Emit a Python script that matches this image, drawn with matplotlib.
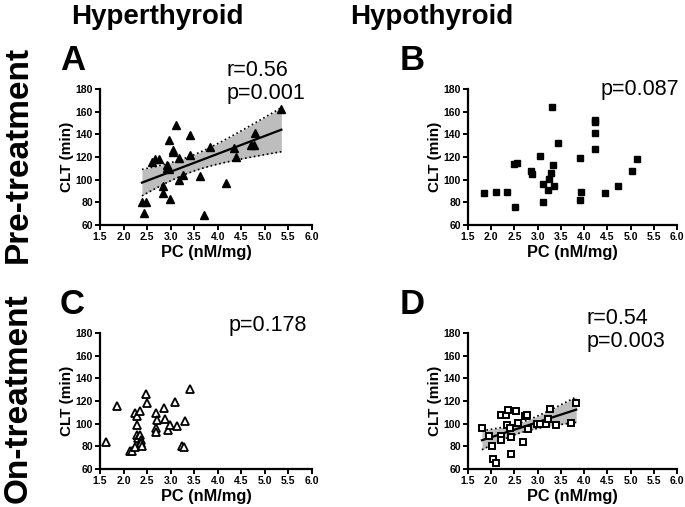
import numpy as np
import matplotlib
matplotlib.use("Agg")
import matplotlib.pyplot as plt

plt.rcParams['font.family'] = ['Liberation Sans', 'DejaVu Sans']

# Panel A: Hyperthyroid, pre-treatment
a_x = [2.39, 2.48, 2.44, 2.61, 2.67, 2.75, 2.83, 2.83, 2.92, 2.93, 2.97, 2.99, 2.97, 3.04, 3.05,
       3.11, 3.17, 3.18, 3.27, 3.41, 3.41, 3.63, 3.71, 3.84, 4.17, 4.34, 4.38, 4.70, 4.76, 4.79, 5.35]
a_y = [80, 80, 71, 116, 118, 118, 94, 88, 113, 110, 109, 83, 135, 126, 124,
       148, 119, 100, 104, 139, 122, 103, 69, 129, 97, 128, 120, 131, 131, 141, 162]
# Panel B: Hypothyroid, pre-treatment
b_x = [1.85, 2.10, 2.34, 2.51, 2.49, 2.56, 2.85, 2.87, 3.04, 3.11, 3.11, 3.22, 3.24, 3.29, 3.33,
       3.31, 3.36, 3.43, 3.92, 3.91, 3.94, 4.23, 4.24, 4.24, 4.24, 4.44, 4.74, 5.04, 5.13]
b_y = [88, 89, 89, 76, 114, 115, 108, 105, 121, 96, 80, 91, 101, 106, 113,
       164, 94, 132, 119, 82, 89, 153, 151, 141, 127, 88, 94, 108, 118]
# Panel C: Hyperthyroid, on-treatment
c_x = [1.63, 1.86, 2.13, 2.17, 2.25, 2.28, 2.28, 2.25, 2.28, 2.34, 2.31, 2.34, 2.36, 2.37, 2.40,
       2.48, 2.50, 2.69, 2.68, 2.69, 2.70, 2.86, 2.89, 2.94, 2.98, 3.10, 3.14, 3.23, 3.28, 3.30, 3.41]
c_y = [84, 116, 76, 76, 79, 90, 99, 109, 107, 111, 87, 90, 86, 83, 80,
       126, 118, 109, 96, 93, 103, 114, 104, 94, 99, 119, 98, 80, 79, 102, 131]
# Panel D: Hypothyroid, on-treatment
d_x = [1.80, 1.96, 2.01, 2.03, 2.10, 2.22, 2.22, 2.22, 2.32, 2.37, 2.34, 2.41, 2.43, 2.43, 2.53,
       2.58, 2.69, 2.73, 2.78, 2.80, 2.98, 3.04, 3.17, 3.22, 3.27, 3.39, 3.72, 3.83]
d_y = [96, 89, 80, 69, 65, 108, 89, 86, 108, 112, 99, 96, 88, 73, 111,
       101, 84, 107, 108, 95, 100, 100, 100, 104, 113, 99, 101, 118]

x_ticks = [1.5, 2.0, 2.5, 3.0, 3.5, 4.0, 4.5, 5.0, 5.5, 6.0]
y_ticks = [60, 80, 100, 120, 140, 160, 180]

W, H = 685, 507
fig = plt.figure(figsize=(W / 100, H / 100), dpi=100)


def add_ax(left, top, right, bottom):
    return fig.add_axes([left / W, 1 - bottom / H, (right - left) / W, (bottom - top) / H])


def style(ax):
    ax.set_xlim(1.5, 6.0)
    ax.set_ylim(60, 180)
    ax.set_xticks(x_ticks)
    ax.set_xticklabels([f"{t:.1f}" for t in x_ticks])
    ax.set_yticks(y_ticks)
    for s in ['top', 'right']:
        ax.spines[s].set_visible(False)
    for s in ['left', 'bottom']:
        ax.spines[s].set_linewidth(1.6)
    ax.tick_params(direction='out', length=3.5, width=1.4, pad=1.5, labelsize=7.5)
    for lab in ax.get_xticklabels() + ax.get_yticklabels():
        lab.set_fontweight('bold')
    ax.set_xlabel('PC (nM/mg)', fontsize=11.8, fontweight='bold', labelpad=2)
    ax.set_ylabel('CLT (min)', fontsize=11, fontweight='bold', labelpad=1)
    ax.patch.set_alpha(0)


def regress(ax, x, y):
    x = np.asarray(x, float)
    y = np.asarray(y, float)
    n = len(x)
    b, a = np.polyfit(x, y, 1)
    xs = np.linspace(x.min(), x.max(), 100)
    yhat = a + b * xs
    resid = y - (a + b * x)
    s = np.sqrt(np.sum(resid ** 2) / (n - 2))
    se = s * np.sqrt(1 / n + (xs - x.mean()) ** 2 / np.sum((x - x.mean()) ** 2))
    t = 2.04
    ax.fill_between(xs, yhat - t * se, yhat + t * se, color='#bdbdbd', lw=0, zorder=1)
    ax.plot(xs, yhat + t * se, color='black', ls=':', lw=1.2, zorder=2)
    ax.plot(xs, yhat - t * se, color='black', ls=':', lw=1.2, zorder=2)
    ax.plot(xs, yhat, color='black', lw=1.6, zorder=3)


axA = add_ax(100, 89, 312, 225)
axB = add_ax(468, 89, 677, 225)
axC = add_ax(100, 333, 312, 469)
axD = add_ax(468, 333, 677, 469)

regress(axA, a_x, a_y)
axA.plot(a_x, a_y, ls='none', marker='^', ms=5.5, mfc='black', mec='black', zorder=4, clip_on=False)
axB.plot(b_x, b_y, ls='none', marker='s', ms=4.6, mfc='black', mec='black', zorder=4, clip_on=False)
axC.plot(c_x, c_y, ls='none', marker='^', ms=5.6, mfc='white', mec='black', mew=1.3, zorder=4, clip_on=False)
regress(axD, d_x, d_y)
axD.plot(d_x, d_y, ls='none', marker='s', ms=4.6, mfc='white', mec='black', mew=1.4, zorder=4, clip_on=False)

for ax in (axA, axB, axC, axD):
    style(ax)


def ftext(x, y, s, **kw):
    fig.text(x / W, 1 - y / H, s, **kw)


# stat texts
st = 15.5
ftext(227, 70, 'r=0.56', fontsize=st, ha='left', va='center')
ftext(227, 93, 'p=0.001', fontsize=st, ha='left', va='center')
ftext(601, 89, 'p=0.087', fontsize=st, ha='left', va='center')
ftext(229, 326, 'p=0.178', fontsize=st, ha='left', va='center')
ftext(587, 318, 'r=0.54', fontsize=st, ha='left', va='center')
ftext(587, 342, 'p=0.003', fontsize=st, ha='left', va='center')

# panel letters
for lx, ly, s in [(60, 61, 'A'), (400, 61, 'B'), (60, 305, 'C'), (400, 305, 'D')]:
    ftext(lx, ly, s, fontsize=25, fontweight='bold', ha='left', va='center')

# headers
ftext(157, 17, 'Hyperthyroid', fontsize=20, fontweight='bold', ha='center', va='center')
ftext(432, 17, 'Hypothyroid', fontsize=20, fontweight='bold', ha='center', va='center')
ftext(18, 154, 'Pre-treatment', fontsize=24, fontweight='bold', ha='center', va='center', rotation=90)
ftext(18, 398, 'On-treatment', fontsize=24, fontweight='bold', ha='center', va='center', rotation=90)

fig.savefig('out.png', dpi=100)
